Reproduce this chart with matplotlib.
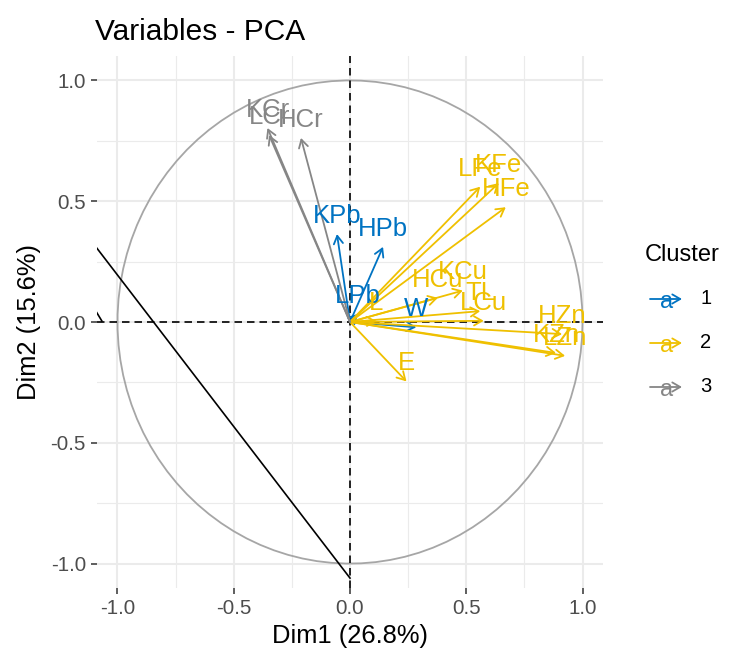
import numpy as np
import matplotlib.pyplot as plt
from matplotlib.patches import FancyArrowPatch

plt.rcParams['font.family'] = ['Liberation Sans', 'DejaVu Sans']

# coordinates of the variables on the first two dimensions
var_names = ['KPb', 'HPb', 'LPb', 'W',
             'LFe', 'KFe', 'HFe', 'KCu', 'HCu', 'TL', 'LCu', 'L', 'E',
             'HZn', 'KZn', 'LZn',
             'KCr', 'LCr', 'HCr']
dim1 = [-0.056, 0.142, 0.034, 0.285,
        0.560, 0.640, 0.670, 0.485, 0.378, 0.560, 0.575, 0.114, 0.243,
        0.912, 0.886, 0.925,
        -0.355, -0.348, -0.211]
dim2 = [0.364, 0.311, 0.033, -0.022,
        0.560, 0.575, 0.475, 0.130, 0.100, 0.045, 0.005, 0.004, -0.246,
        -0.050, -0.128, -0.140,
        0.803, 0.774, 0.762]
cluster = [1, 1, 1, 1,
           2, 2, 2, 2, 2, 2, 2, 2, 2,
           2, 2, 2,
           3, 3, 3]
cluster_levels = [1, 2, 3]
cluster_colors = ['#0073C2', '#EFC000', '#868686']

# stray segments
seg1_x = [-1.10, 0.0]
seg1_y = [0.32, -1.06]
seg2_x = [-1.101, -1.067]
seg2_y = [0.058, 0.004]

W, H = 730, 655
fig = plt.figure(figsize=(W / 100, H / 100), dpi=100)
ax = fig.add_axes([97 / W, 1 - 588 / H, 506 / W, 532 / H])
ax.set_xlim(-1.088, 1.088)
ax.set_ylim(-1.101, 1.101)

for s in ax.spines.values():
    s.set_visible(False)
ax.set_xticks([-1.0, -0.5, 0.0, 0.5, 1.0])
ax.set_yticks([-1.0, -0.5, 0.0, 0.5, 1.0])
ax.set_xticklabels(['-1.0', '-0.5', '0.0', '0.5', '1.0'])
ax.set_yticklabels(['-1.0', '-0.5', '0.0', '0.5', '1.0'])
ax.set_xticks([-0.75, -0.25, 0.25, 0.75], minor=True)
ax.set_yticks([-0.75, -0.25, 0.25, 0.75], minor=True)
ax.tick_params(which='major', length=4, width=1.1, color='#333333',
               labelsize=14.8, labelcolor='#4d4d4d', pad=4)
ax.tick_params(which='minor', length=0)
ax.grid(which='major', color='#ebebeb', lw=1.5, zorder=0)
ax.grid(which='minor', color='#ebebeb', lw=0.8, zorder=0)
ax.set_axisbelow(True)

# correlation circle
t = np.linspace(0, 2 * np.pi, 100)
ax.plot(np.cos(t), np.sin(t), color='#a6a6a6', lw=1.3, zorder=1)
ax.axhline(0, color='black', lw=1.2, ls=(0, (4.5, 3)), zorder=2)
ax.axvline(0, color='black', lw=1.2, ls=(0, (4.5, 3)), zorder=2)

ax.plot(seg1_x, seg1_y, color='black', lw=1.2, zorder=2)
ax.plot(seg2_x, seg2_y, color='black', lw=1.2, zorder=2)

arrow_style = '->,head_length=0.57,head_width=0.33'
for x, y, c in zip(dim1, dim2, cluster):
    col = cluster_colors[cluster_levels.index(c)]
    ax.annotate('', xy=(x, y), xytext=(0, 0),
                arrowprops=dict(arrowstyle=arrow_style, color=col, lw=1.3,
                                shrinkA=0, shrinkB=0, mutation_scale=10),
                zorder=3)

for name, x, y, c in zip(var_names, dim1, dim2, cluster):
    col = cluster_colors[cluster_levels.index(c)]
    ax.annotate(name, xy=(x, y), xytext=(0, 8), textcoords='offset points',
                ha='center', va='baseline', fontsize=18.5, color=col, zorder=4)

ax.set_xlabel('Dim1 (26.8%)', fontsize=18.4, labelpad=4)
ax.set_ylabel('Dim2 (15.6%)', fontsize=18.4, labelpad=7)
fig.text(95 / W, 1 - 40 / H, 'Variables - PCA', fontsize=21.5, ha='left', va='baseline')

# legend
fig.text(645 / W, 1 - 261 / H, 'Cluster', fontsize=17, ha='left', va='baseline')
for i, (lev, col) in enumerate(zip(cluster_levels, cluster_colors)):
    yc = 299 + 44 * i
    fig.add_artist(FancyArrowPatch((650 / W, 1 - yc / H), (682 / W, 1 - yc / H),
                                   transform=fig.transFigure, arrowstyle=arrow_style,
                                   mutation_scale=10, color=col, lw=1.3,
                                   shrinkA=0, shrinkB=0))
    fig.text(667 / W, 1 - (yc + 3) / H, 'a', fontsize=17, color=col,
             ha='center', va='center')
    fig.text(700 / W, 1 - yc / H, str(lev), fontsize=14.5, color='black',
             ha='left', va='center')

fig.savefig('out.png', dpi=100)
